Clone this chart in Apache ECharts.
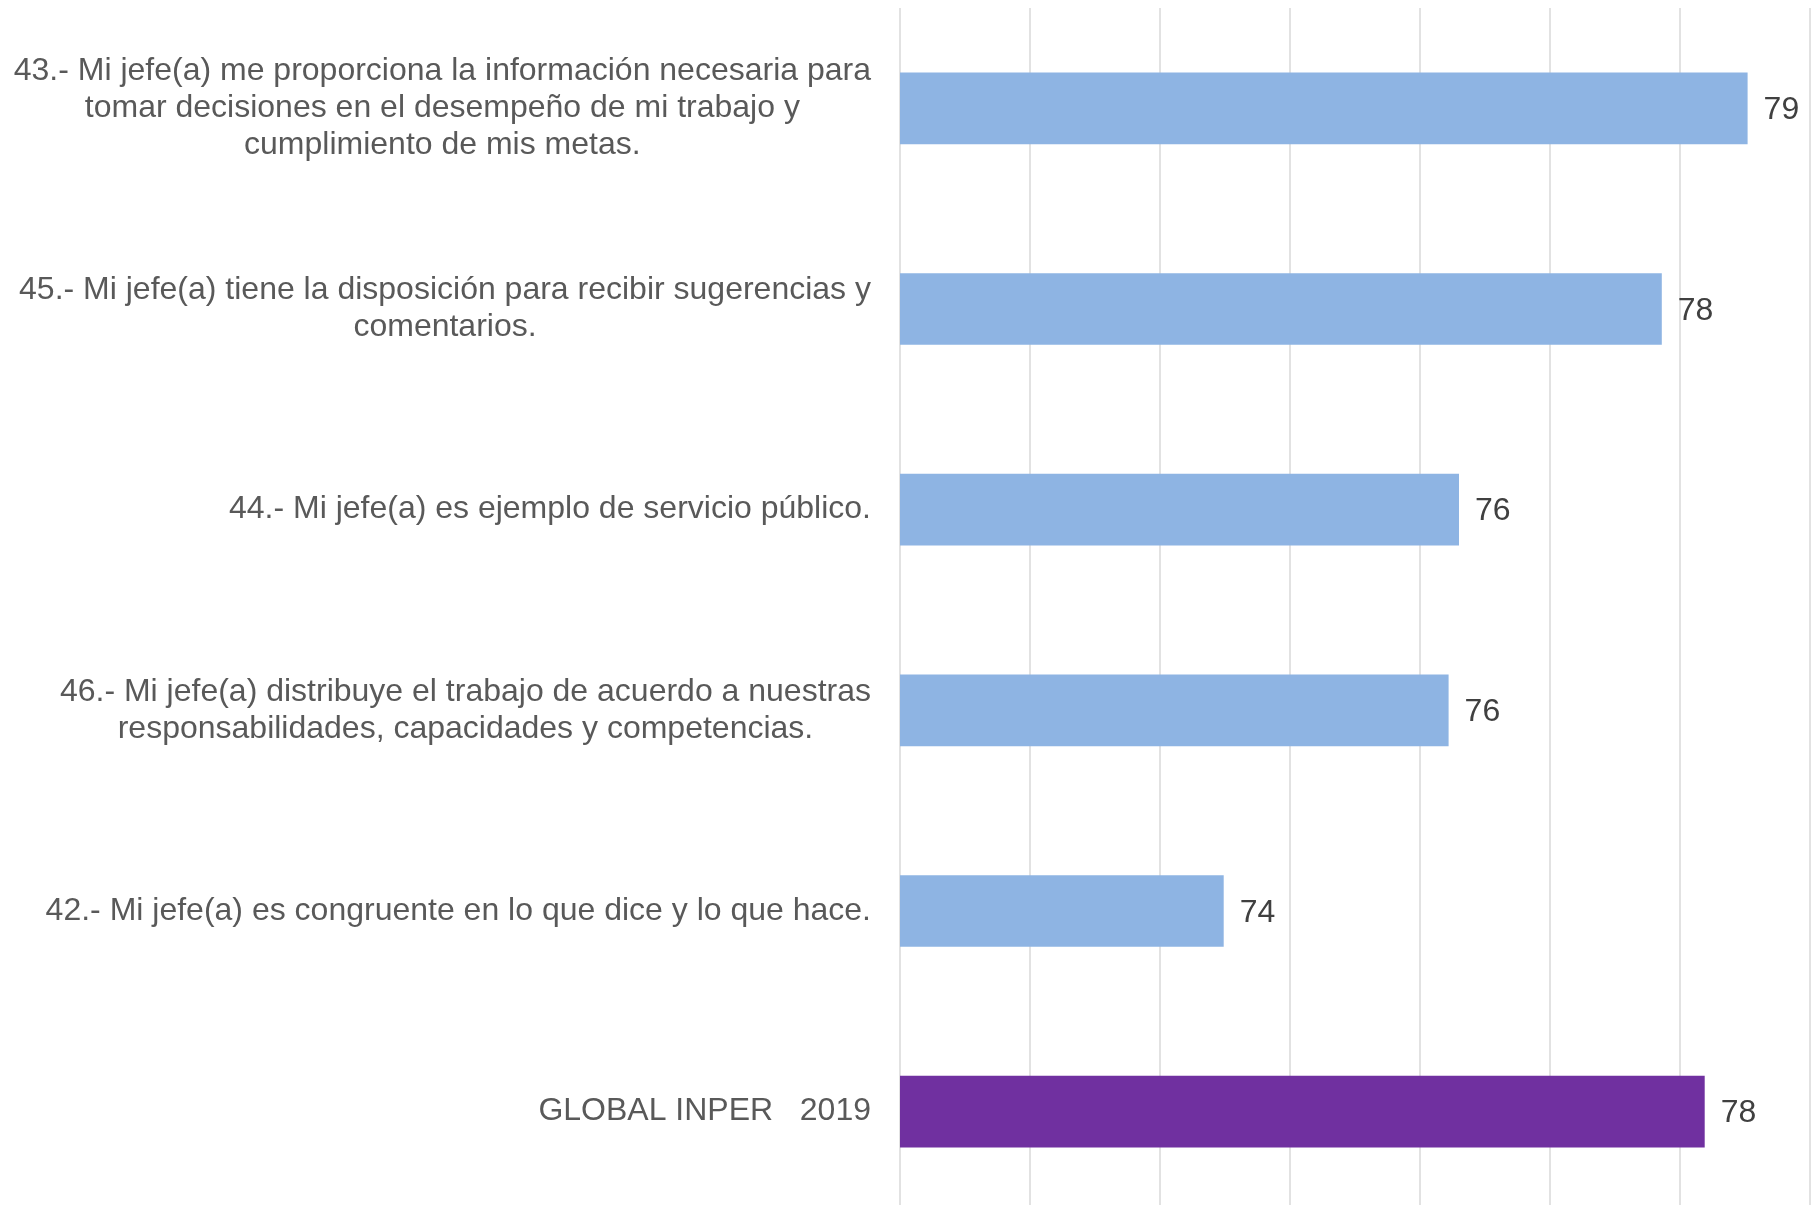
<!DOCTYPE html>
<html>
<head>
<meta charset="utf-8">
<script src="https://cdn.jsdelivr.net/npm/echarts@6/dist/echarts.min.js"></script>
<style>
  html, body { margin: 0; padding: 0; background: #fff; }
  #chart { width: 1818px; height: 1205px; }
</style>
</head>
<body>
<div id="chart"></div>
<script>
// preguntas (de arriba hacia abajo)
var categories = [
  '43.- Mi jefe(a) me proporciona la información necesaria para\ntomar decisiones en el desempeño de mi trabajo y\ncumplimiento de mis metas.',
  '45.- Mi jefe(a) tiene la disposición para recibir sugerencias y\ncomentarios.',
  '44.- Mi jefe(a) es ejemplo de servicio público.',
  '46.- Mi jefe(a) distribuye el trabajo de acuerdo a nuestras\nresponsabilidades, capacidades y competencias.',
  '42.- Mi jefe(a) es congruente en lo que dice y lo que hace.',
  'GLOBAL INPER   2019'
];
var values = [78.52, 77.86, 76.30, 76.22, 74.49, 78.19];

var myChart = echarts.init(document.getElementById('chart'));

var option = {
  animation: false,
  grid: { left: 900, right: 8, top: 8, height: 1204, outerBoundsMode: 'none' },
  xAxis: {
    type: 'value',
    min: 72,
    max: 79,
    interval: 1,
    axisLine: { show: false },
    axisTick: { show: false },
    axisLabel: { show: false },
    splitLine: { lineStyle: { color: '#d9d9d9', width: 1.5 } }
  },
  yAxis: {
    type: 'category',
    inverse: true,
    data: categories,
    axisLine: { show: false },
    axisTick: { show: false },
    axisLabel: {
      margin: 29,
      align: 'right',
      formatter: function (v) {
        return v.split('\n').map(function (l) { return '{c|' + l + '}'; }).join('\n');
      },
      rich: {
        c: {
          align: 'center',
          fontFamily: 'Liberation Sans, Arial, sans-serif',
          fontSize: 32,
          lineHeight: 37,
          color: '#595959'
        }
      }
    }
  },
  series: [{
    type: 'bar',
    data: values,
    barWidth: '35.7%',
    itemStyle: {
      color: function (p) {
        return p.dataIndex === values.length - 1 ? '#7030a0' : '#8eb4e3';
      }
    },
    label: {
      show: true,
      position: 'right',
      distance: 16,
      offset: [0, 2],
      fontFamily: 'Liberation Sans, Arial, sans-serif',
      fontSize: 32,
      color: '#404040',
      formatter: function (p) { return Math.round(p.value); }
    }
  }]
};

myChart.setOption(option);
</script>
</body>
</html>
